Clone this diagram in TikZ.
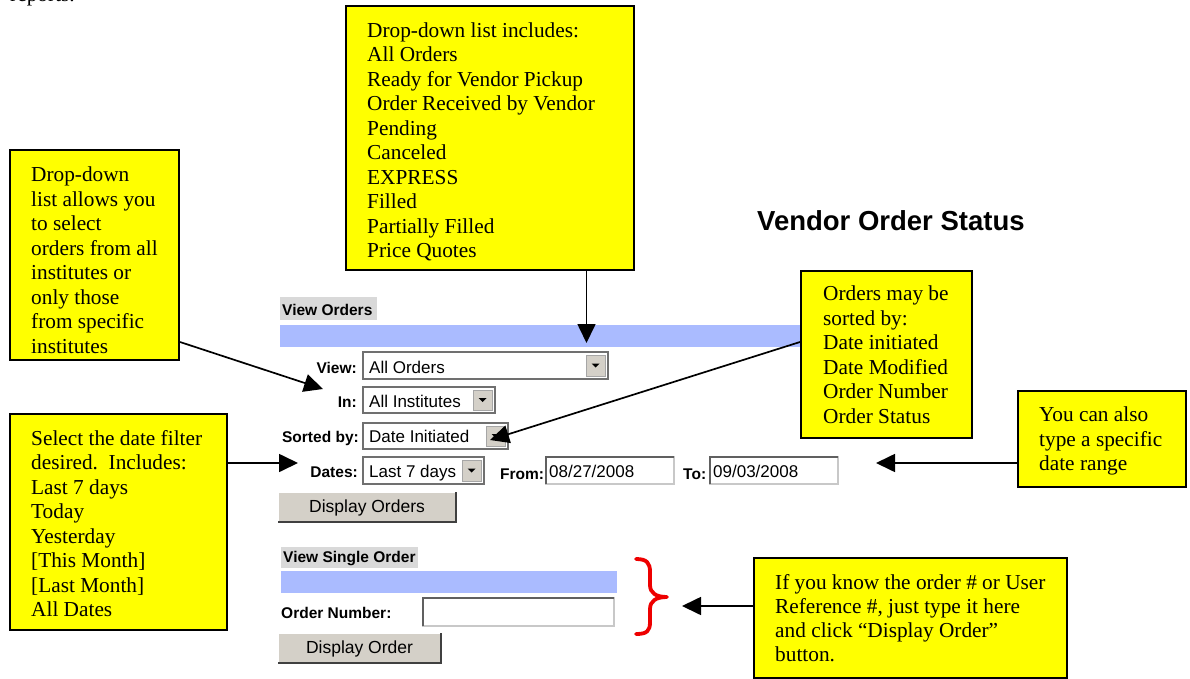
\documentclass[tikz,border=0pt]{standalone}
\usepackage{fontspec}
\setmainfont{Liberation Serif}
\newfontfamily\arialf{Liberation Sans}
\usetikzlibrary{arrows.meta}

\definecolor{calloutyellow}{HTML}{FFFF00}
\definecolor{barblue}{HTML}{AABBFF}
\definecolor{labelgray}{HTML}{D9D9D9}
\definecolor{btngray}{HTML}{D4D0C8}
\definecolor{bracered}{HTML}{EE0000}
\definecolor{ddborder}{HTML}{707070}
\definecolor{tfdark}{HTML}{606060}
\definecolor{tflight}{HTML}{C8C8C8}

\tikzset{
  callout/.style={draw=black, line width=2pt, fill=calloutyellow, inner sep=0pt, rectangle},
  callouttext/.style={anchor=north west, inner sep=0pt, align=left, font=\fontsize{21.3}{24.5}\selectfont},
  callouttextb/.style={anchor=north west, inner sep=0pt, align=left, font=\fontsize{21.3}{24}\selectfont},
  pointer/.style={line width=1.7pt, -{Triangle[length=19pt,width=18pt]}},
  formlabel/.style={inner sep=0pt, font=\arialf\bfseries\fontsize{15.5}{18}\selectfont},
  fieldtext/.style={inner sep=0pt, font=\arialf\fontsize{17}{20}\selectfont},
  btntext/.style={inner sep=0pt, font=\arialf\fontsize{17.5}{20}\selectfont},
}

% drop-down box: x1,y1,x2,y2
\newcommand{\ddbox}[4]{%
  \draw[line width=1.5pt, draw=ddborder, fill=white] (#1,#2) rectangle (#3,#4);
  \draw[fill=btngray, draw=gray!70, line width=0.8pt] ({#3-22},{#2+3}) rectangle ({#3-3},{#4-3});
  \fill ({#3-12.5-4},{(#2+#4)/2-2}) -- ({#3-12.5+4},{(#2+#4)/2-2}) -- ({#3-12.5},{(#2+#4)/2+2}) -- cycle;
}
% text field
\newcommand{\tfbox}[4]{%
  \draw[fill=white, draw=tflight, line width=1.2pt] (#1,#2) rectangle (#3,#4);
  \draw[draw=tfdark, line width=1.5pt] (#1,#4) -- (#1,#2) -- (#3,#2);
}
% push button
\newcommand{\pbtn}[4]{%
  \fill[btngray] (#1,#2) rectangle (#3,#4);
  \draw[white, line width=1pt] (#1,#4) -- (#1,#2) -- (#3,#2);
  \draw[black!75, line width=1.5pt] (#1,#4) -- (#3,#4) -- (#3,#2);
}

\begin{document}
\begin{tikzpicture}[x=1pt,y=-1pt]
\useasboundingbox (0,0) rectangle (1190,679);
\clip (0,0) rectangle (1190,679);
\fill[white] (0,0) rectangle (1190,679);

% clipped text from the page above
\node[anchor=base west, inner sep=0pt, font=\fontsize{21.3}{24.5}\selectfont] (reports) at (10,1.2) {reports.};

% ---------- form ----------
\node[anchor=base west, inner sep=0pt, font=\arialf\bfseries\fontsize{27.5}{30}\selectfont] (title) at (757,230) {Vendor Order Status};

\fill[labelgray] (280,297) rectangle (377,320);
\node[formlabel, anchor=base west] (lblvieworders) at (282,315) {View Orders};
\fill[barblue] (280,325) rectangle (808,347);

\node[formlabel, anchor=base east] (lblview) at (357,373) {View:};
\ddbox{363}{352}{608}{379}
\node[fieldtext, anchor=base west] (valview) at (369,373) {All Orders};

\node[formlabel, anchor=base east] (lblin) at (357,407) {In:};
\ddbox{363}{387}{495}{413}
\node[fieldtext, anchor=base west] (valin) at (369,407) {All Institutes};

\node[formlabel, anchor=base east] (lblsort) at (359,442) {Sorted by:};
\ddbox{363}{423}{508}{449}
\node[fieldtext, anchor=base west] (valsort) at (369,442) {Date Initiated};

\node[formlabel, anchor=base east] (lbldates) at (358,477) {Dates:};
\ddbox{363}{457}{484}{484}
\node[fieldtext, anchor=base west] (valdates) at (369,477) {Last 7 days};

\node[formlabel, anchor=base west] (lblfrom) at (500,479) {From:};
\tfbox{546}{457}{674}{484}
\node[fieldtext, anchor=base west] (valfrom) at (549,477) {08/27/2008};

\node[formlabel, anchor=base west] (lblto) at (683,479) {To:};
\tfbox{710}{457}{838}{484}
\node[fieldtext, anchor=base west] (valto) at (713,477) {09/03/2008};

\pbtn{278}{492}{456}{522}
\node[btntext, anchor=base] (btnorders) at (367,512) {Display Orders};

\fill[labelgray] (281,547) rectangle (418,568);
\node[formlabel, anchor=base west] (lblsingle) at (283,562) {View Single Order};
\fill[barblue] (281,571) rectangle (617,593);

\node[formlabel, anchor=base west] (lblnumber) at (281,618) {Order Number:};
\tfbox{423}{598}{614}{626}

\pbtn{278}{633}{441}{663}
\node[btntext, anchor=base] (btnorder) at (359.5,653) {Display Order};

% red brace
\draw[bracered, line width=3.8pt, line cap=round, line join=round]
  (636,559) .. controls (647,559) and (650,563) .. (650,572) -- (650,585)
  .. controls (650,593) and (656,597) .. (667,597)
  .. controls (656,597) and (650,601) .. (650,609) -- (650,622)
  .. controls (650,631) and (647,634) .. (636,634);

% ---------- callouts ----------
\node[callout, minimum width=288pt, minimum height=264pt] (box1) at (490,138) {};
\node[callouttext] (txt1) at (367,19.85) {\strut Drop-down list includes:\\All Orders\\Ready for Vendor Pickup\\Order Received by Vendor\\Pending\\Canceled\\EXPRESS\\Filled\\Partially Filled\\Price Quotes};

\node[callout, minimum width=169pt, minimum height=210pt] (box2) at (94.5,255) {};
\node[callouttext] (txt2) at (31,164.35) {\strut Drop-down\\list allows you\\to select\\orders from all\\institutes or\\only those\\from specific\\institutes};

\node[callout, minimum width=171pt, minimum height=167pt] (box3) at (886.5,354.5) {};
\node[callouttext] (txt3) at (823,283.35) {\strut Orders may be\\sorted by:\\Date initiated\\Date Modified\\Order Number\\Order Status};

\node[callout, minimum width=217pt, minimum height=216pt] (box4) at (118.5,522) {};
\node[callouttext] (txt4) at (31,427.85) {\strut Select the date filter\\desired.\ \ Includes:\\Last 7 days\\Today\\Yesterday\\{[}This Month{]}\\{[}Last Month{]}\\All Dates};

\node[callout, minimum width=168pt, minimum height=96pt] (box5) at (1102,439) {};
\node[callouttext] (txt5) at (1039,404.35) {\strut You can also\\type a specific\\date range};

\node[callout, minimum width=313pt, minimum height=120pt] (box6) at (910.5,618) {};
\node[callouttextb] (txt6) at (775,572.85) {\strut If you know the order \# or User\\Reference \#, just type it here\\and click “Display Order”\\button.};

% ---------- pointers ----------
\coordinate (tipview) at (586.5,343);
\coordinate (tipin) at (323,389);
\coordinate (tipsort) at (490,440);
\coordinate (tipdates) at (298,463);
\coordinate (tiprange) at (876,463);
\coordinate (tipsingle) at (682,606);

\draw[pointer] ([xshift=96.5pt]box1.south) -- (tipview);
\draw[pointer] ([yshift=-87pt]box2.east) -- (tipin);
\draw[pointer] ([yshift=12.5pt]box3.west) -- (tipsort);
\draw[pointer] ([yshift=59pt]box4.east) -- (tipdates);
\draw[pointer] ([yshift=-24pt]box5.west) -- (tiprange);
\draw[pointer] ([yshift=12pt]box6.west) -- (tipsingle);
\end{tikzpicture}
\end{document}
